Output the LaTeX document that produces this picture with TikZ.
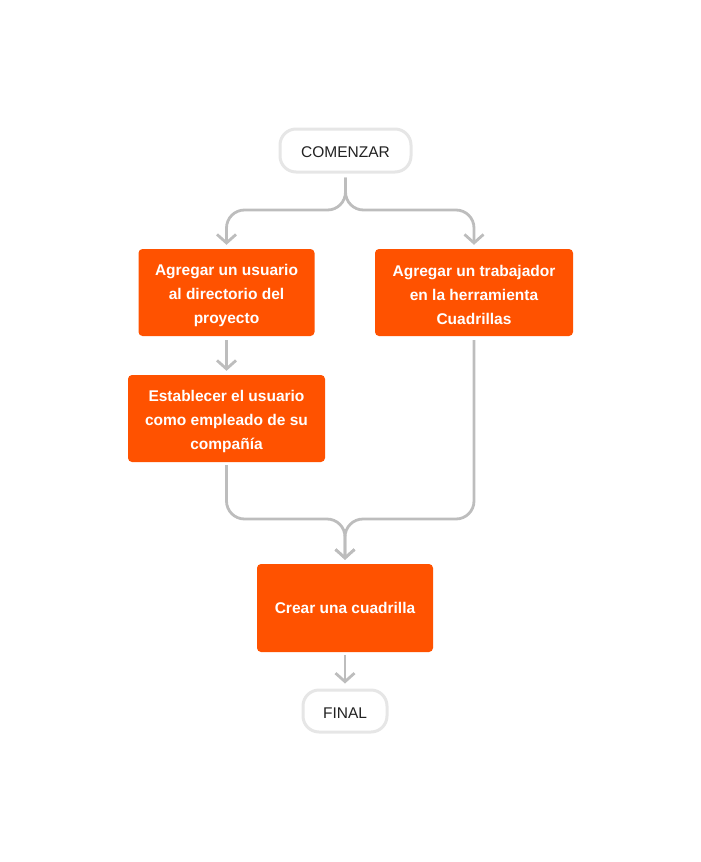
\documentclass[tikz,border=0pt]{standalone}
\usepackage{fontspec}
\setmainfont{Liberation Sans}
\usetikzlibrary{arrows.meta}
\definecolor{procore}{HTML}{FF5200}
\definecolor{conngrey}{HTML}{BDBDBD}
\definecolor{termborder}{HTML}{E6E6E6}
\definecolor{termtext}{HTML}{222222}
\newcommand\mytopgap[1]{\rule{0pt}{#1}}
\tikzset{
  stepbox/.style={fill=procore, draw=none, rounded corners=4pt, inner sep=0pt,
    align=center, text=white, font=\fontsize{15.5}{24}\selectfont\bfseries},
  termbox/.style={draw=termborder, line width=3pt, fill=white, rounded corners=16pt,
    inner sep=0pt, text=termtext, font=\fontsize{15.5}{20}\selectfont},
  conn/.style={draw=conngrey, line width=2.8pt, rounded corners=18pt,
    -{Straight Barb[length=8.5pt,width=19pt]}},
}
\begin{document}
\begin{tikzpicture}[x=1pt,y=-1pt]
\useasboundingbox (0,0) rectangle (701,862);
\node[termbox, minimum width=131pt, minimum height=43pt] (start) at (345.5,150.5) {\mytopgap{14pt}COMENZAR};
\node[stepbox, minimum width=176pt, minimum height=87pt] (a1) at (226.5,292.5)
  {\mytopgap{17pt}Agregar un usuario\\al directorio del\\proyecto};
\node[stepbox, minimum width=198pt, minimum height=87pt] (b1) at (474,292.5)
  {\mytopgap{17pt}Agregar un trabajador\\en la herramienta\\Cuadrillas};
\node[stepbox, minimum width=197pt, minimum height=87pt] (a2) at (226.5,418.5)
  {\mytopgap{17pt}Establecer el usuario\\como empleado de su\\compañía};
\node[stepbox, minimum width=176pt, minimum height=88pt] (c) at (345,608)
  {Crear una cuadrilla};
\node[termbox, minimum width=84pt, minimum height=42pt] (final) at (345,711) {\mytopgap{14pt}FINAL};
\coordinate (j1) at (345.5,210);
\coordinate (j2) at (345,519);
\draw[conn, shorten <=4pt, shorten >=4pt] (start.south) -- (j1) -| (a1.north);
\draw[conn, shorten <=4pt, shorten >=4pt] (start.south) -- (j1) -| (b1.north);
\draw[conn, shorten <=4pt, shorten >=4pt] (a1.south) -- (a2.north);
\draw[conn, shorten <=3pt, shorten >=4pt] (a2.south) |- (j2) -- (c.north);
\draw[conn, shorten <=4pt, shorten >=4pt] (b1.south) |- (j2) -- (c.north);
\draw[conn, shorten <=3pt, shorten >=5pt] (c.south) -- (final.north);
\end{tikzpicture}
\end{document}
